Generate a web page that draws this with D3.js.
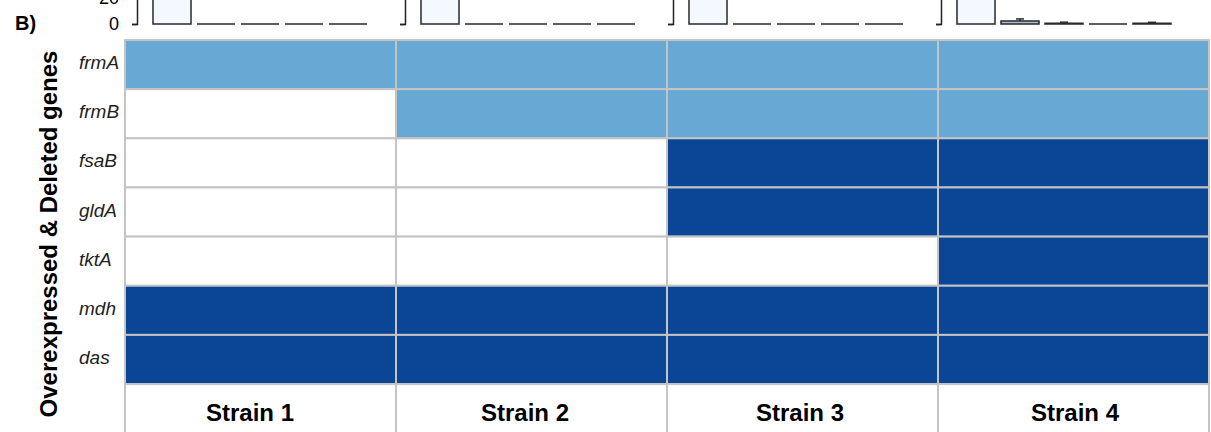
<!DOCTYPE html>
<html>
<head>
<meta charset="utf-8">
<script src="https://cdn.jsdelivr.net/npm/d3@7"></script>
<style>
  body { margin: 0; background: #fff; }
  svg { display: block; }
</style>
</head>
<body>
<div id="chart"></div>
<script>
const strains = ["Strain 1", "Strain 2", "Strain 3", "Strain 4"];
const genes = ["frmA", "frmB", "fsaB", "gldA", "tktA", "mdh", "das"];

// 0 = none, 1 = deleted (light), 2 = overexpressed (dark)
const geneStatus = {
  frmA: [1, 1, 1, 1],
  frmB: [0, 1, 1, 1],
  fsaB: [0, 0, 2, 2],
  gldA: [0, 0, 2, 2],
  tktA: [0, 0, 0, 2],
  mdh:  [2, 2, 2, 2],
  das:  [2, 2, 2, 2]
};

// top strip (bottom of the panel A bar chart, cut off by the crop)
const barKeys = ["b1", "b2", "b3", "b4", "b5"];
const barValues = [
  [100, 0, 0, 0, 0],
  [100, 0, 0, 0, 0],
  [100, 0, 0, 0, 0],
  [100, 2.4, 0.6, 0, 0.5]
];
const barErrors = [
  [0, 0, 0, 0, 0],
  [0, 0, 0, 0, 0],
  [0, 0, 0, 0, 0],
  [0, 1.5, 0.8, 0, 0.8]
];
const yTicks = [0, 20];

const width = 1211;
const height = 432;
const font = "Arial, 'Liberation Sans', sans-serif";

const svg = d3.select("#chart")
  .append("svg")
  .attr("width", width)
  .attr("height", height)
  .attr("viewBox", `0 0 ${width} ${height}`);

// ---- heat grid ----
const x = d3.scaleBand()
  .domain(strains)
  .range([125, 1209]);

const y = d3.scaleBand()
  .domain([...genes, "label"])
  .range([40, 40 + 8 * 49.15]);

const fill = d3.scaleOrdinal()
  .domain([0, 1, 2])
  .range(["#ffffff", "#67a9d4", "#0a4695"]);

const cells = [];
genes.forEach(g => {
  strains.forEach((s, i) => cells.push({ gene: g, strain: s, v: geneStatus[g][i] }));
});

svg.append("g")
  .selectAll("rect")
  .data(cells)
  .join("rect")
  .attr("x", d => x(d.strain))
  .attr("y", d => y(d.gene))
  .attr("width", x.bandwidth())
  .attr("height", y.bandwidth())
  .attr("fill", d => fill(d.v))
  .attr("stroke", "#c4c4c4")
  .attr("stroke-width", 2);

// label row (only verticals + top line show)
svg.append("g")
  .selectAll("rect")
  .data(strains)
  .join("rect")
  .attr("x", d => x(d))
  .attr("y", y("label"))
  .attr("width", x.bandwidth())
  .attr("height", y.bandwidth())
  .attr("fill", "none")
  .attr("stroke", "#c4c4c4")
  .attr("stroke-width", 2);

// strain labels sit a bit off the cell centres in the original
const xLabel = d3.scaleBand()
  .domain(strains)
  .range([112.5, 112.5 + 4 * 275]);

svg.append("g")
  .selectAll("text")
  .data(strains)
  .join("text")
  .attr("x", d => xLabel(d) + xLabel.bandwidth() / 2)
  .attr("y", y("label") + y.bandwidth() / 2 + 4)
  .attr("text-anchor", "middle")
  .attr("dominant-baseline", "central")
  .style("font-family", font)
  .style("font-weight", "bold")
  .style("font-size", "24px")
  .attr("fill", "#000")
  .text(d => d);

// gene labels
svg.append("g")
  .selectAll("text")
  .data(genes)
  .join("text")
  .attr("x", 79)
  .attr("y", d => y(d) + y.bandwidth() / 2 - 2)
  .attr("dominant-baseline", "central")
  .style("font-family", font)
  .style("font-style", "italic")
  .style("font-size", "19px")
  .attr("fill", "#222")
  .text(d => d);

svg.append("text")
  .attr("transform", "rotate(-90)")
  .attr("x", -234)
  .attr("y", 48)
  .attr("text-anchor", "middle")
  .attr("dominant-baseline", "central")
  .style("font-family", font)
  .style("font-weight", "bold")
  .style("font-size", "24px")
  .attr("fill", "#000")
  .text("Overexpressed & Deleted genes");

// ---- top strip ----
svg.append("text")
  .attr("x", 15)
  .attr("y", 23)
  .attr("dominant-baseline", "central")
  .style("font-family", font)
  .style("font-weight", "bold")
  .style("font-size", "20px")
  .attr("fill", "#000")
  .text("B)");

const panel = d3.scaleBand()
  .domain(strains)
  .range([137, 137 + 4 * 268]);

const yb = d3.scaleLinear()
  .domain([0, 20])
  .range([24, -2]);

strains.forEach((s, pi) => {
  const ax = panel(s);
  const g = svg.append("g");

  const axis = d3.axisLeft(yb)
    .tickValues(yTicks)
    .tickSize(5)
    .tickPadding(13)
    .tickFormat(pi === 0 ? d3.format("d") : "");

  g.append("g")
    .attr("transform", `translate(${ax},0)`)
    .call(axis)
    .call(a => a.select(".domain").attr("stroke", "#222").attr("stroke-width", 1.5))
    .call(a => a.selectAll(".tick line").attr("stroke", "#222").attr("stroke-width", 1.5))
    .call(a => a.selectAll("text")
      .style("font-family", font)
      .style("font-size", "18px")
      .attr("fill", "#000"));

  const xb = d3.scaleBand()
    .domain(barKeys)
    .range([ax + 16, ax + 16 + 214])
    .paddingInner(0.136);

  const bars = barKeys.map((k, i) => ({ k, v: barValues[pi][i], e: barErrors[pi][i], first: i === 0 }));

  // paths so that zero bars still show as a flat line
  g.selectAll("path.bar")
    .data(bars)
    .join("path")
    .attr("class", "bar")
    .attr("d", d => {
      const x0 = xb(d.k), x1 = x0 + xb.bandwidth();
      return `M${x0},${yb(0)}V${yb(d.v)}H${x1}V${yb(0)}Z`;
    })
    .attr("fill", d => d.first ? "#f4f8ff" : "#a9bfd8")
    .attr("stroke", "#2a2a2a")
    .attr("stroke-width", 1.5);

  const errs = bars.filter(d => d.e > 0);
  g.selectAll("line.err")
    .data(errs)
    .join("line")
    .attr("class", "err")
    .attr("x1", d => xb(d.k) + xb.bandwidth() / 2)
    .attr("x2", d => xb(d.k) + xb.bandwidth() / 2)
    .attr("y1", d => yb(d.v))
    .attr("y2", d => yb(d.v + d.e))
    .attr("stroke", "#2a2a2a")
    .attr("stroke-width", 1.5);

  g.selectAll("line.cap")
    .data(errs)
    .join("line")
    .attr("class", "cap")
    .attr("x1", d => xb(d.k) + xb.bandwidth() / 2 - 4)
    .attr("x2", d => xb(d.k) + xb.bandwidth() / 2 + 4)
    .attr("y1", d => yb(d.v + d.e))
    .attr("y2", d => yb(d.v + d.e))
    .attr("stroke", "#2a2a2a")
    .attr("stroke-width", 1.5);
});
</script>
</body>
</html>
